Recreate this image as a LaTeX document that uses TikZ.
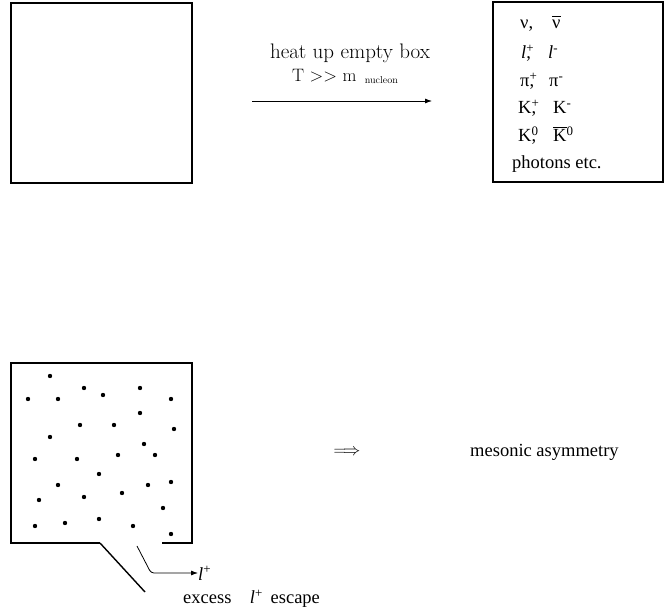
\documentclass[tikz,border=0pt]{standalone}
\usepackage{fontspec}
\newfontfamily\tms{Liberation Serif}
\usetikzlibrary{arrows.meta}
\newcommand\barred[2][1.6pt]{{\setbox0\hbox{#2}\rlap{\raisebox{\dimexpr\ht0+#1\relax}{\rule{\wd0}{0.8pt}}}\box0}}
\tikzset{
  wall/.style = {line width=1.6pt},
  grain/.style = {circle, fill, inner sep=0pt, minimum size=4.4pt},
  ptxt/.style = {inner sep=0pt, anchor=base west, font=\fontsize{18.5}{22}\tms},
  cmtxt/.style = {inner sep=0pt, font=\fontsize{21}{25}\selectfont},
  flow/.style = {line width=0.8pt, -{Latex[length=7pt,width=5pt]}}
}
\begin{document}
\begin{tikzpicture}[x=1pt, y=-1pt]
	\useasboundingbox (0,0) rectangle (665,612);
	% empty box and heated box
	\draw[wall] (11,3) rectangle (192,183);
	\draw[wall] (493,2) rectangle (663,182);
	\node[cmtxt] (heat) at (350,53) {heat up empty box};
	\node[cmtxt, anchor=base west, font=\fontsize{18}{22}\selectfont] (temp) at (292,82) {T >{}> m\, \raisebox{-2pt}{\fontsize{10}{12}\selectfont nucleon}};
	\coordinate (hotL) at (252,101);
	\coordinate (hotR) at (432,101);
	\draw[flow] (hotL) -- (hotR);
	% particle list
	\node[ptxt] (nu)    at (520,29)  {ν,};
	\node[ptxt] (nubar) at (552,29)  {\barred[3.5pt]{ν}};
	\node[ptxt] (lp)    at (521,59)  {\textit{l}\rlap{\textsuperscript{+}},};
	\node[ptxt] (lm)    at (548,59)  {\textit{l}\textsuperscript{-}};
	\node[ptxt] (pip)   at (520,87)  {π\rlap{\textsuperscript{+}},};
	\node[ptxt] (pim)   at (549,87)  {π\textsuperscript{-}};
	\node[ptxt] (kp)    at (518,114) {K\rlap{\textsuperscript{+}},};
	\node[ptxt] (km)    at (553,114) {K\textsuperscript{-}};
	\node[ptxt] (kz)    at (518,142) {K\rlap{\textsuperscript{0}},};
	\node[ptxt] (kzbar) at (553,142) {\barred{K}\textsuperscript{0}};
	\node[ptxt] (phot)  at (512,169) {photons etc.};
	% leaking box
	\draw[wall] (100,543) -- (11,543) -- (11,363) -- (192,363) -- (192,543) -- (162,543);
	\draw[line width=1.4pt] (100,543) -- (145,592);
	\foreach \px/\py in {50/376, 84/388, 140/388, 28/399, 58/399, 103/395, 171/399,
	                     140/413, 80/425, 114/425, 174/429, 50/437, 144/444,
	                     35/459, 77/459, 118/455, 155/455, 99/474, 58/485, 148/485,
	                     171/482, 39/500, 84/497, 122/493, 163/508, 35/526, 65/523,
	                     99/519, 133/526, 171/534}
		\node[grain] at (\px,\py) {};
	\coordinate (leak) at (137,546);
	\node[ptxt] (lout) at (198,580) {\textit{l}\textsuperscript{+}};
	\draw[flow, rounded corners=3pt] (leak) -- (151,573) -- (lout.west |- 0,573);
	\node[ptxt] (excess) at (183,604) {excess\quad\textit{l}\textsuperscript{+}\, escape};
	% conclusion
	\node[inner sep=0pt, font=\fontsize{18}{22}\selectfont] (impl) at (347,452) {$\Longrightarrow$};
	\node[ptxt, anchor=west] (meson) at (470,452) {mesonic asymmetry};
\end{tikzpicture}
\end{document}
